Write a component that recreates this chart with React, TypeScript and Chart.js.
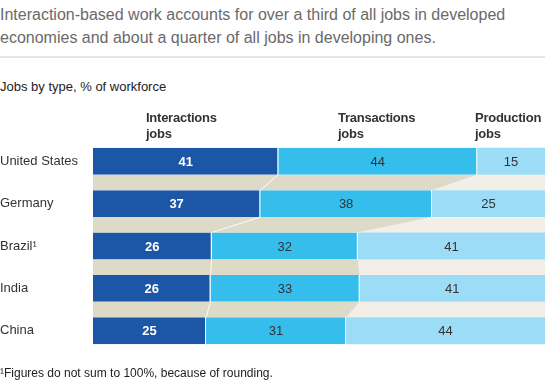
import React, { useEffect, useRef } from "react";
import { Chart, registerables } from "chart.js";

Chart.register(...registerables);

const countries = ["United States", "Germany", "Brazil¹", "India", "China"];
const interactions = [41, 37, 26, 26, 25];
const transactions = [44, 38, 32, 33, 31];
const production = [15, 25, 41, 41, 44];
const seriesNames = ["Interactions", "Transactions", "Production"];

const titleLines = [
  "Interaction-based work accounts for over a third of all jobs in developed",
  "economies and about a quarter of all jobs in developing ones.",
];
const subtitle = "Jobs by type, % of workforce";
const footnote = "¹Figures do not sum to 100%, because of rounding.";

const COLORS = ["#1c56a6", "#35bdec", "#9ddcf6"];
const BEIGE = "#dedac8";
const CREAM = "#f1efe7";
const FONT = "'Liberation Sans', Arial, Helvetica, sans-serif";

const raw = [interactions, transactions, production];
const totals = countries.map((_, i) => raw.reduce((s, arr) => s + arr[i], 0));
const normalized = raw.map((arr) => arr.map((v, i) => (v / totals[i]) * 100));

const connectorPlugin = {
  id: "connectors",
  beforeDatasetsDraw(chart: any) {
    const ctx = chart.ctx;
    const area = chart.chartArea;
    const m0 = chart.getDatasetMeta(0).data;
    const m1 = chart.getDatasetMeta(1).data;
    for (let i = 0; i < m0.length - 1; i++) {
      const a0 = m0[i], b0 = m0[i + 1];
      const a1 = m1[i], b1 = m1[i + 1];
      const yb = a0.y + a0.height / 2;
      const yt = b0.y - b0.height / 2;
      const left = area.left, right = area.right;
      ctx.save();
      ctx.fillStyle = CREAM;
      ctx.beginPath();
      ctx.moveTo(a1.x, yb);
      ctx.lineTo(right, yb);
      ctx.lineTo(right, yt);
      ctx.lineTo(b1.x, yt);
      ctx.closePath();
      ctx.fill();
      ctx.fillStyle = BEIGE;
      ctx.beginPath();
      ctx.moveTo(left, yb);
      ctx.lineTo(a1.x, yb);
      ctx.lineTo(b1.x, yt);
      ctx.lineTo(left, yt);
      ctx.closePath();
      ctx.fill();
      ctx.strokeStyle = "rgba(255,255,255,0.9)";
      ctx.lineWidth = 1;
      ctx.beginPath();
      ctx.moveTo(a0.x, yb);
      ctx.lineTo(b0.x, yt);
      ctx.stroke();
      ctx.restore();
    }
  },
};

const labelPlugin = {
  id: "valueLabels",
  afterDatasetsDraw(chart: any) {
    const ctx = chart.ctx;
    ctx.save();
    ctx.textAlign = "center";
    ctx.textBaseline = "middle";
    chart.data.datasets.forEach((_: any, di: number) => {
      const meta = chart.getDatasetMeta(di);
      meta.data.forEach((el: any, i: number) => {
        const cx = (el.x + el.base) / 2;
        if (di === 0) {
          ctx.fillStyle = "#ffffff";
          ctx.font = `bold 13px ${FONT}`;
        } else {
          ctx.fillStyle = "#333333";
          ctx.font = `13px ${FONT}`;
        }
        ctx.fillText(String(raw[di][i]), cx, el.y + 1);
      });
    });
    ctx.restore();
  },
};

export default function App() {
  const canvasRef = useRef<HTMLCanvasElement | null>(null);

  useEffect(() => {
    if (!canvasRef.current) return;
    const chart = new Chart(canvasRef.current, {
      type: "bar",
      data: {
        labels: countries,
        datasets: normalized.map((arr, di) => ({
          label: seriesNames[di],
          data: arr,
          backgroundColor: COLORS[di],
          borderColor: "#ffffff",
          borderWidth: di < 2 ? { top: 0, bottom: 0, left: 0, right: 1 } : 0,
          borderSkipped: false,
          categoryPercentage: 1,
          barPercentage: 0.635,
        })),
      },
      options: {
        indexAxis: "y",
        animation: false,
        responsive: false,
        maintainAspectRatio: false,
        layout: { padding: { top: 140, bottom: 40, left: 0, right: 0 } },
        plugins: {
          legend: { display: false },
          tooltip: { enabled: false },
          title: { display: false },
        },
        scales: {
          x: { stacked: true, min: 0, max: 100, display: false },
          y: {
            stacked: true,
            grid: { display: false },
            border: { display: false },
            afterFit: (scale: any) => {
              scale.width = 93;
            },
            ticks: {
              crossAlign: "far",
              padding: 0,
              color: "#333333",
              font: { family: FONT, size: 13 },
            },
          },
        },
      } as any,
      plugins: [connectorPlugin, labelPlugin],
    });
    return () => chart.destroy();
  }, []);

  const header = (text: string, left: number) => (
    <div
      style={{
        position: "absolute",
        left,
        top: 110,
        fontFamily: FONT,
        fontWeight: "bold",
        fontSize: 13,
        lineHeight: "16px",
        letterSpacing: "-0.25px",
        color: "#333333",
        whiteSpace: "nowrap",
      }}
    >
      {text}
      <br />
      jobs
    </div>
  );

  return (
    <div
      style={{
        position: "fixed",
        left: 0,
        top: 0,
        width: 545,
        height: 392,
        background: "#ffffff",
        overflow: "hidden",
        fontFamily: FONT,
      }}
    >
      <div
        style={{
          position: "absolute",
          left: 0,
          top: 3,
          fontSize: 16,
          lineHeight: "23px",
          color: "#6a6a6a",
          whiteSpace: "nowrap",
        }}
      >
        {titleLines[0]}
        <br />
        {titleLines[1]}
      </div>
      <div
        style={{
          position: "absolute",
          left: 0,
          top: 56,
          width: 545,
          height: 2,
          background: "#e6e6e6",
        }}
      />
      <div
        style={{
          position: "absolute",
          left: 0,
          top: 79,
          fontSize: 13,
          color: "#222222",
          whiteSpace: "nowrap",
        }}
      >
        {subtitle}
      </div>
      <canvas
        ref={canvasRef}
        width={545}
        height={392}
        style={{ position: "absolute", left: 0, top: 0, width: 545, height: 392 }}
      />
      {header(seriesNames[0], 146)}
      {header(seriesNames[1], 338)}
      {header(seriesNames[2], 475)}
      <div
        style={{
          position: "absolute",
          left: 0,
          top: 366,
          fontSize: 12,
          color: "#222222",
          whiteSpace: "nowrap",
        }}
      >
        {footnote}
      </div>
    </div>
  );
}
